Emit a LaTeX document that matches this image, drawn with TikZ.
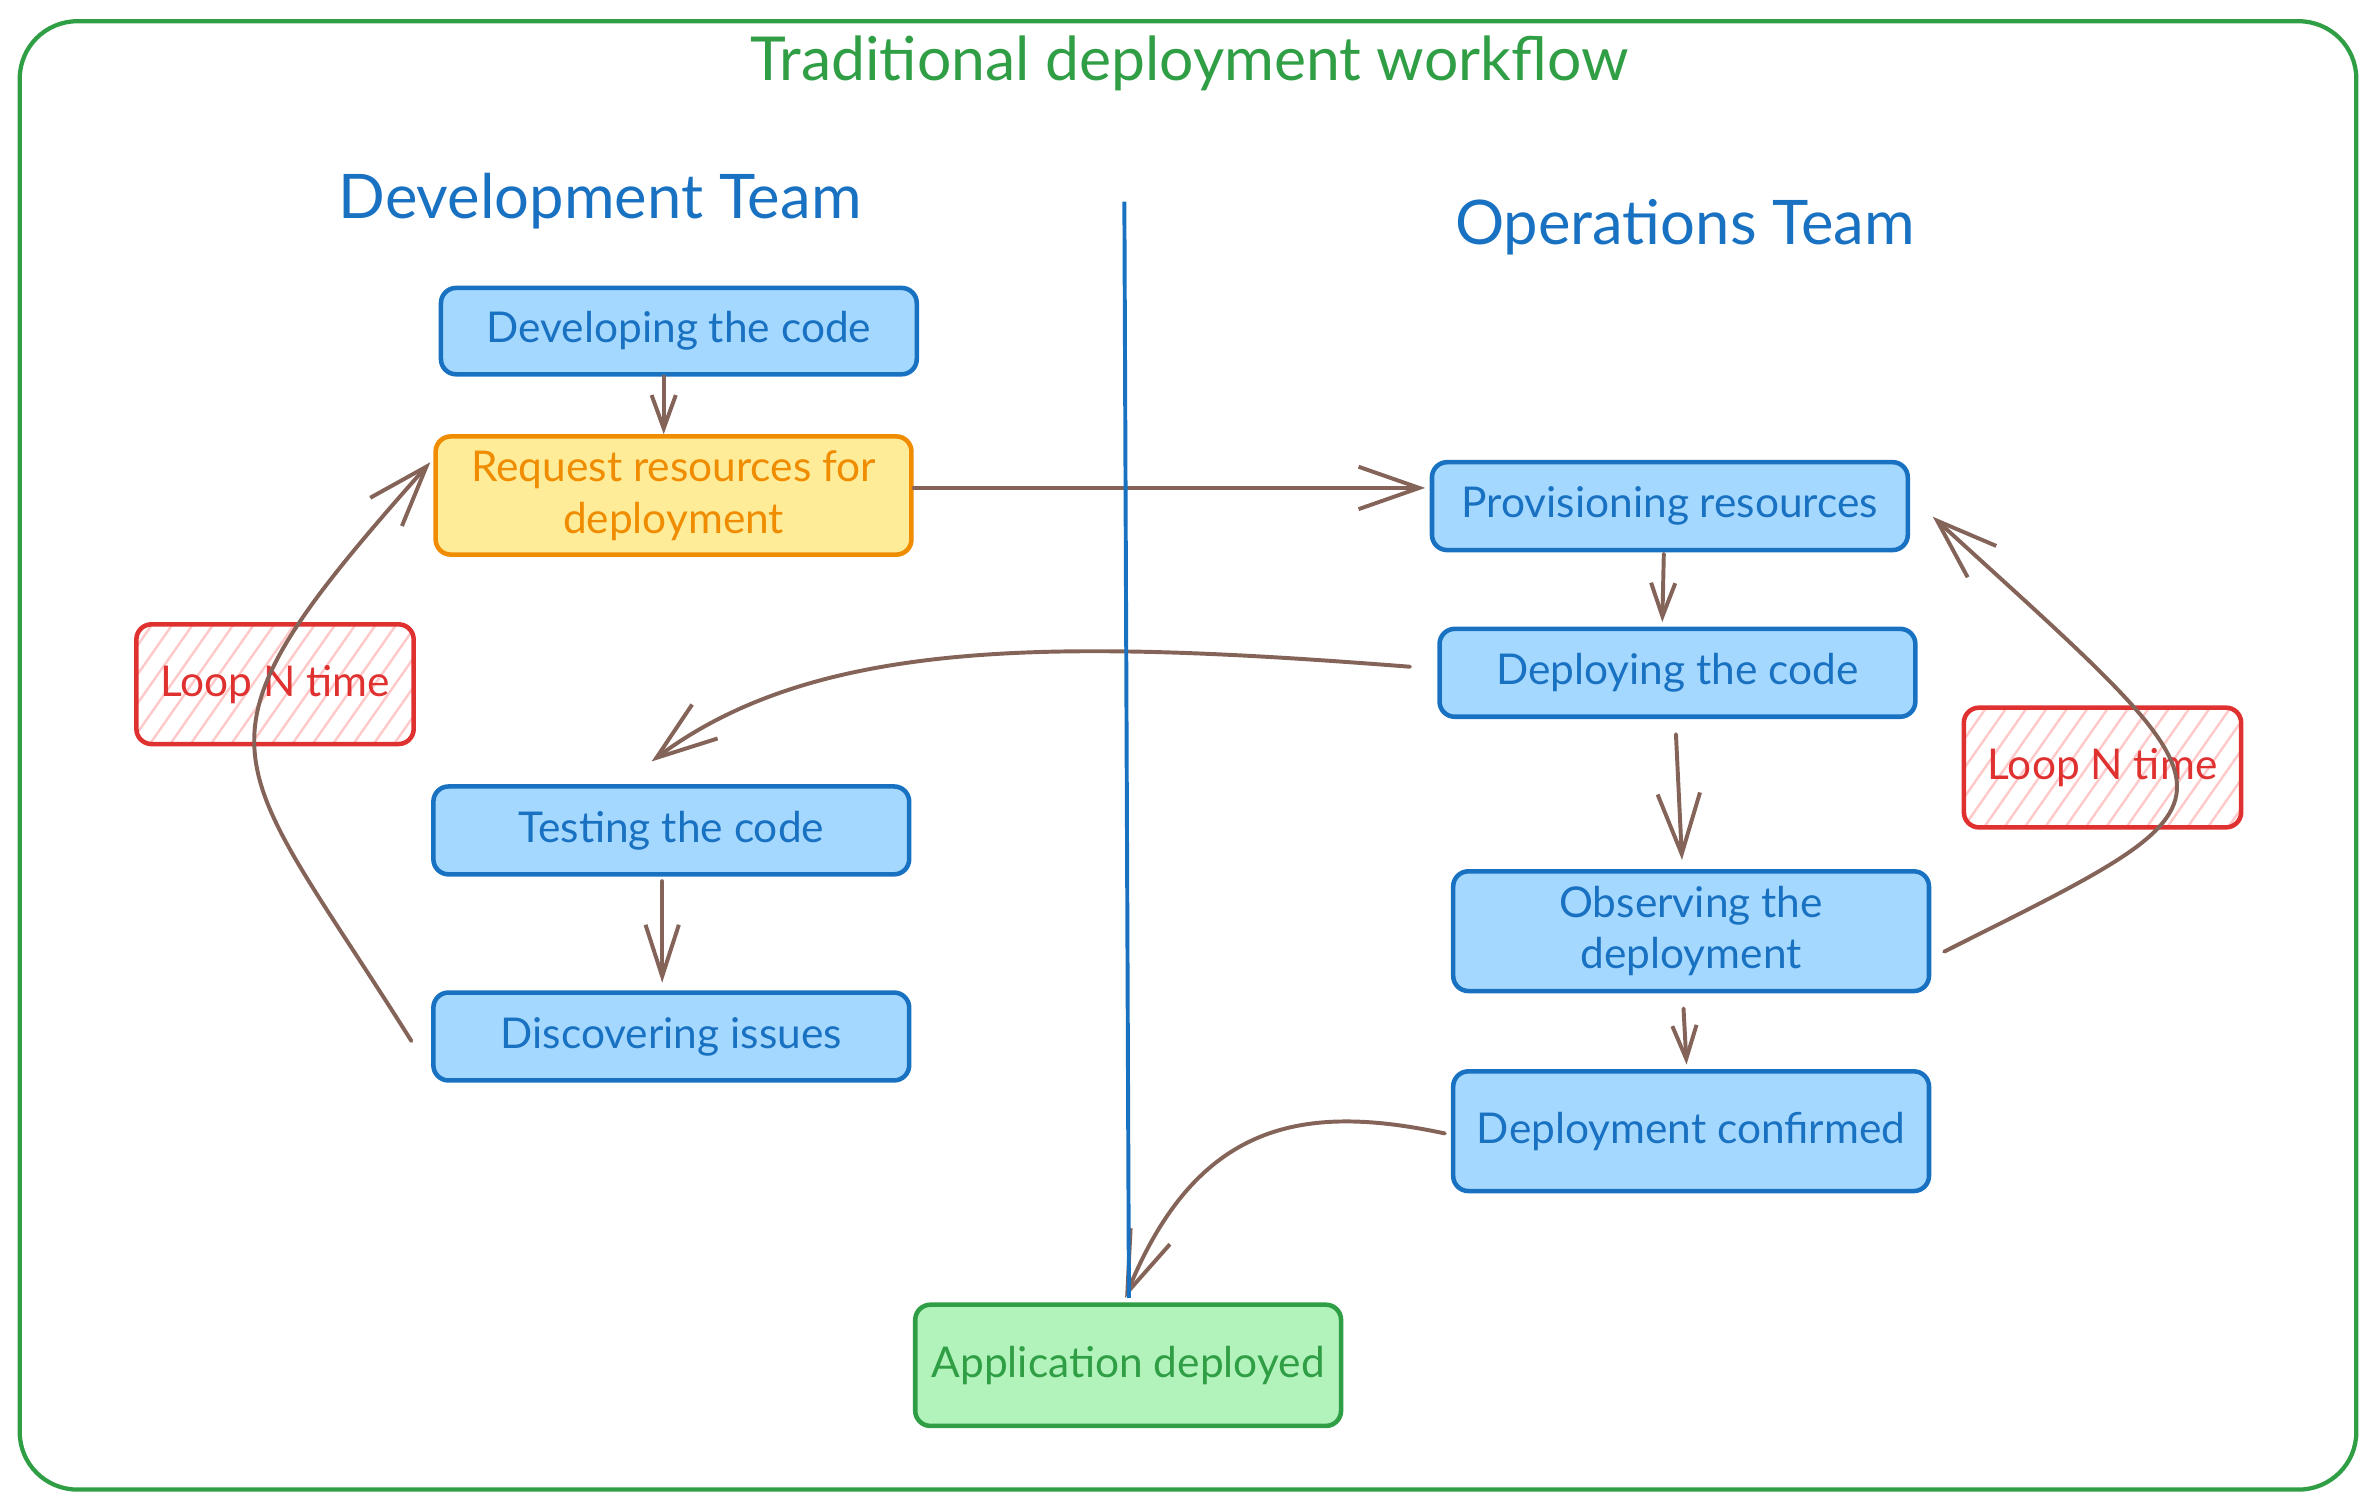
\documentclass[tikz,border=0pt]{standalone}
\usepackage{fontspec}
\setmainfont{Lato}
\usetikzlibrary{arrows.meta,patterns.meta,calc}
\definecolor{cblue}{HTML}{1971C2}
\definecolor{cbluef}{HTML}{A5D8FF}
\definecolor{corange}{HTML}{F08C00}
\definecolor{cyellowf}{HTML}{FFEC99}
\definecolor{cgreen}{HTML}{2F9E44}
\definecolor{cgreenf}{HTML}{B2F2BB}
\definecolor{cred}{HTML}{E03131}
\definecolor{credf}{HTML}{FFC9C9}
\definecolor{cbrown}{HTML}{846358}
\tikzset{
  box/.style={draw=cblue, fill=cbluef, text=cblue, line width=1.5pt, rounded corners=5pt,
    minimum width=157pt, minimum height=29pt, align=center, inner sep=0pt,
    font=\fontsize{14}{17}\selectfont},
  tallbox/.style={box, minimum height=39.5pt},
  reqbox/.style={box, draw=corange, fill=cyellowf, text=corange, minimum height=39pt},
  appbox/.style={box, draw=cgreen, fill=cgreenf, text=cgreen, minimum width=140.5pt, minimum height=40pt},
  loopbox/.style={draw=cred, text=cred, line width=1.5pt, rounded corners=5pt,
    minimum width=91.5pt, minimum height=39.5pt, inner sep=0pt,
    pattern={Lines[angle=55,distance=5.5pt,line width=0.8pt]}, pattern color=credf,
    font=\fontsize{14}{17}\selectfont},
  teamlabel/.style={text=cblue, font=\fontsize{20.3}{24}\selectfont, inner sep=0pt},
  conn/.style={draw=cbrown, line width=1.3pt, line cap=round},
  arrS/.style={conn, -{Straight Barb[length=11pt,width=8pt]}},
  arrM/.style={conn, -{Straight Barb[length=17pt,width=11pt]}},
  arrL/.style={conn, -{Straight Barb[length=20pt,width=14pt]}},
}
\begin{document}
\begin{tikzpicture}[x=0.5pt,y=-0.5pt]
\useasboundingbox (0,0) rectangle (1568,996.6);
% frame
\draw[cgreen, line width=1.4pt, rounded corners=19pt] (13,14) rectangle (1555,983);
\node[text=cgreen, font=\fontsize{20}{24}\selectfont, inner sep=0pt] (title) at (785,42) {Traditional deployment workflow};
\node[teamlabel] (devteam) at (396,133) {Development Team};
\node[teamlabel] (opsteam) at (1112,150) {Operations Team};

% nodes
\node[box, minimum height=28.5pt] (dev) at (448,218.5) {Developing the code};
\node[reqbox] (req) at (444.5,327) {Request resources for\\deployment};
\node[box] (prov) at (1102,334) {Provisioning resources};
\node[box] (depl) at (1107,444) {Deploying the code};
\node[box] (test) at (443,548) {Testing the code};
\node[box] (disc) at (443,684) {Discovering issues};
\node[tallbox] (obs) at (1116,614.5) {Observing the\\deployment};
\node[tallbox] (conf) at (1116,746.5) {Deployment confirmed};
\node[appbox] (app) at (744.5,901) {Application deployed};
\node[loopbox] (loopL) at (181.5,451.5) {Loop N time};
\node[loopbox] (loopR) at (1387.5,506.5) {Loop N time};

% divider
\coordinate (vtop) at (742,133);
\coordinate (vbot) at ($(app.north)+(0.5,-3)$);

% connectors
\draw[arrS] ($(dev.south)+(-10,0)$) -- ($(req.north)+(-6.5,0)$);
\draw[arrL] ($(req.east)+(0,-5)$) -- ($(prov.west)+(-3,-12)$);
\draw[arrS] ($(prov.south)+(-4,1)$) -- ($(depl.north)+(-10,-3)$);
\draw[arrL] ($(depl.west)+(-18,-4)$) .. controls (700,422) and (540,420) .. ($(test.north)+(-13,-15)$);
\draw[arrM] ($(test.south)+(-6,3)$) -- ($(disc.north)+(-6,-5)$);
\draw[arrL] ($(disc.west)+(-13,3)$) .. controls (150,493) and (114,496) .. ($(req.west)+(-2,-22)$);
\draw[arrL] ($(depl.south)+(-1,10)$) -- ($(obs.north)+(-6,-6)$);
\draw[arrS] ($(obs.south)+(-5,10)$) -- ($(conf.north)+(-3,-3)$);
\draw[arrL] ($(obs.east)+(8.5,13.5)$) .. controls (1490,524) and (1487,534) .. ($(prov.east)+(15,7)$);
\draw[arrL] ($(conf.west)+(-4,1.5)$) .. controls (860,728) and (790,740) .. ($(app.north)+(-2,-3)$);

\draw[cblue, line width=1.3pt] (vtop) -- (vbot);
\end{tikzpicture}
\end{document}
